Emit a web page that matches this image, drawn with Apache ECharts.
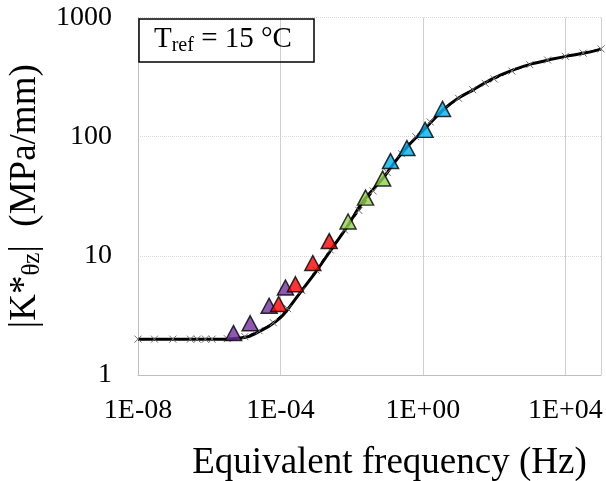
<!DOCTYPE html>
<html><head><meta charset="utf-8">
<script src="https://cdn.jsdelivr.net/npm/echarts@6/dist/echarts.min.js"></script>
<style>html,body{margin:0;padding:0;background:#fff}#c{width:606px;height:481px}</style>
</head><body><div id="c"></div>
<script>
// Master curve (solid line): [frequency Hz, |K*| MPa/mm]
const masterFreq = [1e-8, 2.8e-6, 7.4e-6, 1.4e-5, 2.7e-5, 5.1e-5, 9.8e-5, 1.55e-4, 3.5e-4, 1.07e-3, 3.0e-3, 7.4e-3, 2.1e-2, 7.6e-2, 0.162, 0.427, 1.12, 3.63, 9.5, 25.1, 91, 331, 1200, 4370, 1.1e4, 4.0e4, 1e5];
const masterK    = [2.0, 2.0, 2.04, 2.12, 2.34, 2.60, 3.01, 3.51, 4.87, 7.60, 11.9, 17.5, 28.8, 45.0, 61.2, 86.7, 116, 167, 209, 246, 307, 362, 410, 448, 474, 508, 543];
// Model points (dashed line, × markers)
const modelFreq = [1e-8, 2.9e-8, 9.5e-8, 2.95e-7, 4.6e-7, 7.8e-7, 1.2e-6, 3.2e-6, 1e-5, 2.5e-5, 6.3e-5, 1.6e-4, 4.0e-4, 1e-3, 2.5e-3, 6.3e-3, 1.6e-2, 4.0e-2, 0.1, 0.25, 0.63, 1.6, 4.0, 10, 25, 56, 100, 316, 1000, 3160, 1e4, 3.16e4, 1e5];
const modelK    = [2.0, 2.0, 2.0, 2.0, 2.0, 2.0, 2.0, 2.02, 2.1, 2.35, 2.75, 3.6, 5.1, 7.6, 11.2, 16.5, 24, 35, 50, 72, 100, 133, 170, 210, 248, 280, 305, 355, 402, 440, 472, 502, 545];
// Measured data by temperature group (triangles)
const purpleFreq = [4.8e-6, 1.41e-5, 4.8e-5, 1.38e-4];
const purpleK    = [2.25, 2.72, 3.81, 5.42];
const redFreq    = [8.9e-5, 2.63e-4, 8.1e-4, 2.34e-3];
const redK       = [3.94, 5.78, 8.70, 13.3];
const greenFreq  = [7.9e-3, 2.45e-2, 7.4e-2];
const greenK     = [19.4, 30.8, 44.5];
const blueFreq   = [0.123, 0.355, 1.15, 3.55];
const blueK      = [62.4, 80.2, 114, 171];
const xTicks = ['1E-08', '1E-04', '1E+00', '1E+04'];
const yTicks = ['1', '10', '100', '1000'];

const zip = (a, b) => a.map((v, i) => [v, b[i]]);
const FONT = 'Liberation Serif';
const chart = echarts.init(document.getElementById('c'), null, {renderer: 'canvas'});
const tri = (name, f, k, color) => ({
  name, type: 'scatter', data: zip(f, k), symbol: 'triangle', symbolSize: [16, 15],
  itemStyle: {color, borderColor: '#000', borderWidth: 1.5}, z: 5
});
const fmtExp = v => {
  const e = Math.round(Math.log10(v));
  return '1E' + (e < 0 ? '-' : '+') + String(Math.abs(e)).padStart(2, '0');
};
chart.setOption({
  animation: false,
  backgroundColor: '#fff',
  title: {
    text: '{t|T}{s|ref}{t| = 15 °C}',
    left: 139, top: 17,
    borderColor: '#000', borderWidth: 1.5,
    padding: [6, 22, 6, 15],
    textStyle: {
      fontWeight: 'normal',
      rich: {
        t: {fontFamily: FONT, fontSize: 29, fontWeight: 'normal', color: '#000', lineHeight: 33},
        s: {fontFamily: FONT, fontSize: 20, fontWeight: 'normal', color: '#000', lineHeight: 33, verticalAlign: 'bottom'}
      }
    }
  },
  grid: {left: 138, right: 5, top: 17.5, bottom: 106, containLabel: false, outerBoundsMode: 'none'},
  xAxis: {
    type: 'log', logBase: 10, min: 1e-8, max: 1e5, interval: 4,
    axisLine: {show: true, lineStyle: {color: '#bfbfbf', width: 1}},
    axisTick: {show: false},
    minorTick: {show: false},
    splitLine: {show: true, lineStyle: {color: '#d0d0d0', width: 1, type: 'solid'}},
    axisLabel: {
      color: '#000', fontFamily: FONT, fontSize: 28, margin: 22, showMaxLabel: false,
      formatter: v => { const s = fmtExp(v); return xTicks.includes(s) ? s : ''; }
    },
    name: 'Equivalent frequency (Hz)', nameLocation: 'middle', nameGap: 70,
    nameTextStyle: {color: '#000', fontFamily: FONT, fontSize: 37, padding: [0, 0, 0, 40]}
  },
  yAxis: {
    type: 'log', logBase: 10, min: 1, max: 1000, interval: 1,
    axisLine: {show: true, lineStyle: {color: '#bfbfbf', width: 1}},
    axisTick: {show: false},
    minorTick: {show: false},
    splitLine: {show: true, lineStyle: {color: '#d9d9d9', width: 1, type: 'dotted'}},
    axisLabel: {
      color: '#000', fontFamily: FONT, fontSize: 28, margin: 26,
      formatter: v => { const s = String(Math.round(v)); return yTicks.includes(s) ? s : ''; }
    },
    name: '{n||K*}{s|θz}{n||  (MPa/mm)}', nameLocation: 'middle', nameGap: 86,
    nameTextStyle: {
      rich: {
        n: {fontFamily: FONT, fontSize: 37, color: '#000', lineHeight: 40},
        s: {fontFamily: FONT, fontSize: 25, color: '#000', lineHeight: 40, verticalAlign: 'bottom'}
      }
    }
  },
  series: [
    {name: 'master', type: 'line', data: zip(masterFreq, masterK), showSymbol: false, smooth: 0.3,
     lineStyle: {color: '#000', width: 3}, z: 2},
    {name: 'model', type: 'line', data: zip(modelFreq, modelK), smooth: 0.3,
     symbol: 'path://M0,0L10,10M10,0L0,10', symbolSize: 7,
     itemStyle: {color: 'rgba(0,0,0,0)', borderColor: '#707070', borderWidth: 1},
     lineStyle: {color: '#000', width: 1.5, type: [5, 3]}, z: 3},
    tri('purple', purpleFreq, purpleK, '#7030A0'),
    tri('red', redFreq, redK, '#FF0000'),
    tri('green', greenFreq, greenK, '#92D050'),
    tri('blue', blueFreq, blueK, '#00B0F0')
  ]
});
</script></body></html>
